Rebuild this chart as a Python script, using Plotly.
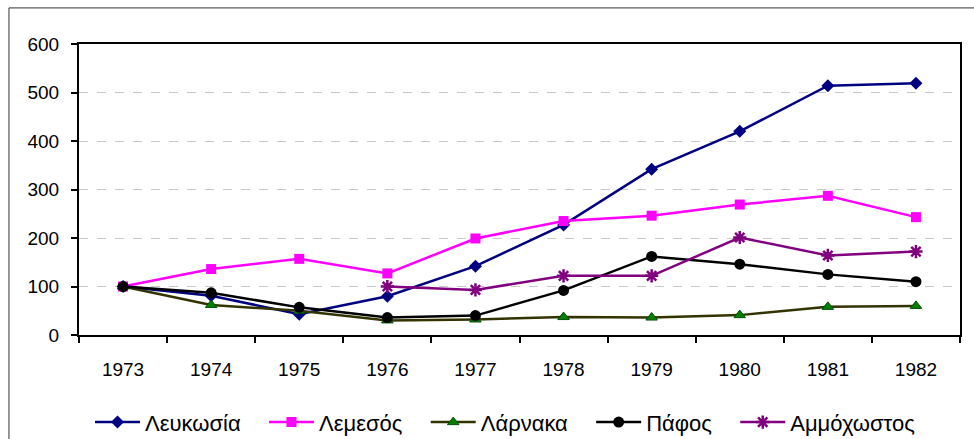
import plotly.graph_objects as go

years = ["1973", "1974", "1975", "1976", "1977", "1978", "1979", "1980", "1981", "1982"]
lefkosia = [100, 81, 43, 80, 142, 227, 342, 420, 514, 519]
lemesos = [100, 136, 157, 127, 199, 235, 246, 269, 287, 243]
larnaka = [100, 62, 50, 30, 32, 37, 36, 41, 58, 60]
pafos = [100, 87, 57, 36, 40, 92, 162, 146, 125, 110]
ammochostos = [None, None, None, 100, 93, 122, 122, 201, 164, 172]
y_ticks = [0, 100, 200, 300, 400, 500, 600]
names = ["Λευκωσία", "Λεμεσός", "Λάρνακα", "Πάφος", "Αμμόχωστος"]

FONT = "Liberation Sans, Arial, sans-serif"
PAD = "\u00a0\u00a0\u00a0"

fig = go.Figure()
fig.add_trace(go.Scatter(x=years, y=lefkosia, name=names[0] + PAD, mode="lines+markers",
                         line=dict(color="#000080", width=2.5),
                         marker=dict(symbol="diamond", size=10, color="#000080")))
fig.add_trace(go.Scatter(x=years, y=lemesos, name=names[1] + PAD, mode="lines+markers",
                         line=dict(color="#FF00FF", width=2.5),
                         marker=dict(symbol="square", size=10, color="#FF00FF")))
fig.add_trace(go.Scatter(x=years, y=larnaka, name=names[2] + PAD, mode="lines+markers",
                         line=dict(color="#333300", width=2.5),
                         marker=dict(symbol="triangle-up", size=10, color="#008000",
                                     line=dict(color="#005000", width=1))))
fig.add_trace(go.Scatter(x=years, y=pafos, name=names[3] + PAD, mode="lines+markers",
                         line=dict(color="#000000", width=2.5),
                         marker=dict(symbol="circle", size=11, color="#000000")))
fig.add_trace(go.Scatter(x=years, y=ammochostos, name=names[4], mode="lines+markers",
                         line=dict(color="#800080", width=2.5),
                         marker=dict(symbol="asterisk-open", size=11,
                                     line=dict(color="#800080", width=2.5))))

fig.add_shape(type="rect", xref="paper", yref="paper",
              x0=-0.0795, y0=-3, x1=3, y1=1.124,
              line=dict(color="#333333", width=1), fillcolor="rgba(0,0,0,0)", layer="below")

fig.update_layout(
    width=974, height=439,
    margin=dict(l=79, r=14, t=44, b=104, autoexpand=False),
    paper_bgcolor="white", plot_bgcolor="white",
    font=dict(family=FONT, size=19, color="black"),
    showlegend=True,
    legend=dict(orientation="h", xref="container", yref="container",
                x=0.5185, xanchor="center", y=0.038, yanchor="middle",
                font=dict(family=FONT, size=22, color="black"),
                bgcolor="rgba(0,0,0,0)", itemwidth=45, tracegroupgap=0),
    xaxis=dict(type="category", range=[-0.5, 9.5], tickson="boundaries", ticks="outside",
               ticklen=6, tickwidth=1.5, tickcolor="black", showline=True, linecolor="black",
               linewidth=2, mirror=True, showgrid=False, ticklabelstandoff=16,
               automargin=False, tickfont=dict(size=19)),
    yaxis=dict(range=[0, 600], tickvals=y_ticks, ticks="outside", ticklen=6,
               tickwidth=1.5, tickcolor="black", showline=True, linecolor="black",
               linewidth=2, mirror=True, showgrid=True, gridcolor="#c8c8c8",
               griddash="dash", gridwidth=1, zeroline=False, ticklabelstandoff=8,
               automargin=False, tickfont=dict(size=19)),
)

fig.write_html("out.html", config={"displayModeBar": False},
               post_script="document.body.style.margin='0px';document.body.style.overflow='hidden';")
